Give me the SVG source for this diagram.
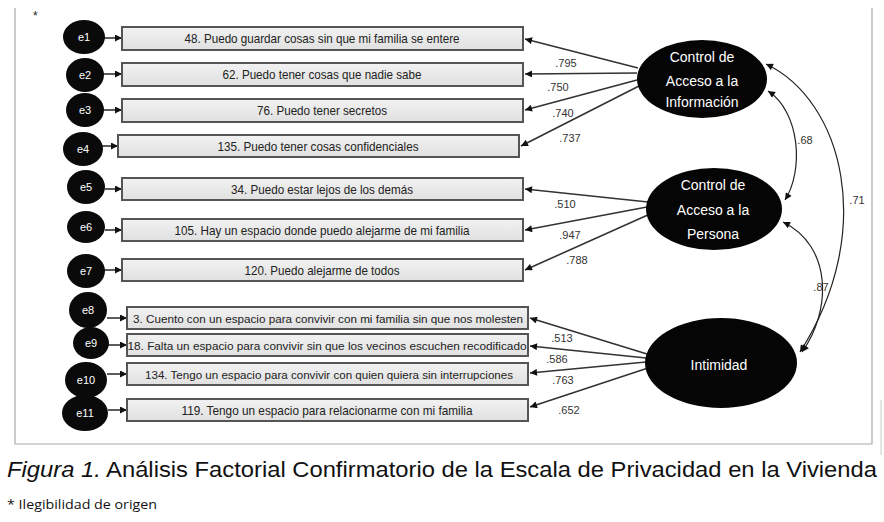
<svg xmlns="http://www.w3.org/2000/svg" width="884" height="522" viewBox="0 0 884 522">
<defs>
<marker id="ah" viewBox="0 0 10 10" refX="10" refY="5" markerWidth="9" markerHeight="7" markerUnits="userSpaceOnUse" orient="auto-start-reverse">
<path d="M0,0 L10,5 L0,10 z" fill="#111"/>
</marker>
<marker id="ah2" viewBox="0 0 10 10" refX="10" refY="5" markerWidth="8" markerHeight="7" markerUnits="userSpaceOnUse" orient="auto-start-reverse">
<path d="M0,0 L10,5 L0,10 z" fill="#111"/>
</marker>
<linearGradient id="bg" x1="0" y1="0" x2="0" y2="1">
<stop offset="0" stop-color="#f2f2f2"/>
<stop offset="1" stop-color="#e0e0e0"/>
</linearGradient>
</defs>
<style>
.box{fill:url(#bg);stroke:#555;stroke-width:2}
.bt{font-family:"Liberation Sans",Arial,sans-serif;font-size:13px;fill:#222;text-anchor:middle}
.bs{font-size:11.5px}
.err{fill:#0a0a0a}
.et{font-family:"Liberation Sans",Arial,sans-serif;font-size:11px;fill:#fff;text-anchor:middle}
.lat{fill:#050505}
.lt{font-family:"Liberation Sans",Arial,sans-serif;font-size:14px;fill:#fff;text-anchor:middle}
.ln{stroke:#333;stroke-width:1.6;fill:none;marker-end:url(#ah)}
.cv{stroke:#222;stroke-width:1.2;fill:none;marker-start:url(#ah2);marker-end:url(#ah2)}
.num{font-family:"Liberation Sans",Arial,sans-serif;font-size:11px;fill:#333;text-anchor:middle}
.frame{stroke:#aaa;stroke-width:1.2;fill:none}
</style>
<rect width="884" height="522" fill="#fff"/>
<path class="frame" d="M15,8 V444 H872 V8"/>
<path d="M881,400 V455" stroke="#ccc" stroke-width="1" fill="none"/>
<text x="33" y="20" font-family="Liberation Sans,Arial,sans-serif" font-size="12" fill="#222">*</text>

<g id="connectors">
<line class="ln" x1="104" y1="38" x2="122" y2="38"/>
<line class="ln" x1="103" y1="74" x2="122" y2="74"/>
<line class="ln" x1="103" y1="110" x2="122" y2="110"/>
<line class="ln" x1="102" y1="146" x2="118" y2="146"/>
<line class="ln" x1="105" y1="189" x2="122" y2="189"/>
<line class="ln" x1="105" y1="230" x2="122" y2="230"/>
<line class="ln" x1="105" y1="270" x2="122" y2="270"/>
<line class="ln" x1="107" y1="318" x2="127" y2="318"/>
<line class="ln" x1="108" y1="345" x2="127" y2="345"/>
<line class="ln" x1="107" y1="374" x2="127" y2="374"/>
<line class="ln" x1="108" y1="410" x2="127" y2="410"/>

<line class="ln" x1="638" y1="68" x2="525" y2="39"/>
<line class="ln" x1="637" y1="73" x2="525" y2="74"/>
<line class="ln" x1="637" y1="80" x2="525" y2="110"/>
<line class="ln" x1="639" y1="86" x2="521" y2="146"/>

<line class="ln" x1="648" y1="202" x2="525" y2="189"/>
<line class="ln" x1="647" y1="207" x2="525" y2="230"/>
<line class="ln" x1="650" y1="214" x2="525" y2="270"/>

<line class="ln" x1="647" y1="354" x2="530" y2="318"/>
<line class="ln" x1="646" y1="358" x2="530" y2="346"/>
<line class="ln" x1="646" y1="362" x2="530" y2="373"/>
<line class="ln" x1="648" y1="368" x2="530" y2="407"/>

<path class="cv" d="M768,91 C800,112 804,170 785,200"/>
<path class="cv" d="M766,64 C842,100 878,230 800,352"/>
<path class="cv" d="M783,222 C832,246 832,310 802,352"/>
</g>

<g id="labels">
<text class="num" x="566" y="67">.795</text>
<text class="num" x="558" y="91">.750</text>
<text class="num" x="563" y="117">.740</text>
<text class="num" x="570" y="142">.737</text>
<text class="num" x="565" y="208">.510</text>
<text class="num" x="570" y="239">.947</text>
<text class="num" x="577" y="264">.788</text>
<text class="num" x="562" y="342">.513</text>
<text class="num" x="557" y="363">.586</text>
<text class="num" x="563" y="384">.763</text>
<text class="num" x="569" y="414">.652</text>
<text class="num" x="805" y="144" font-size="8">.68</text>
<text class="num" x="857" y="204" font-size="8">.71</text>
<text class="num" x="821" y="291" font-size="8">.87</text>
</g>

<g id="e1"><ellipse class="err" cx="84" cy="37" rx="21" ry="17"/><text class="et" x="84" y="41">e1</text></g>
<g id="e2"><ellipse class="err" cx="85" cy="75" rx="19" ry="17"/><text class="et" x="85" y="79">e2</text></g>
<g id="e3"><ellipse class="err" cx="85" cy="110" rx="19" ry="17"/><text class="et" x="85" y="114">e3</text></g>
<g id="e4"><ellipse class="err" cx="83" cy="149" rx="20" ry="17"/><text class="et" x="83" y="153">e4</text></g>
<g id="e5"><ellipse class="err" cx="86" cy="187" rx="19" ry="17"/><text class="et" x="86" y="191">e5</text></g>
<g id="e6"><ellipse class="err" cx="86" cy="227" rx="19" ry="16"/><text class="et" x="86" y="231">e6</text></g>
<g id="e7"><ellipse class="err" cx="86" cy="271" rx="19" ry="17"/><text class="et" x="86" y="275">e7</text></g>
<g id="e8"><ellipse class="err" cx="88" cy="310" rx="19" ry="18"/><text class="et" x="88" y="314">e8</text></g>
<g id="e9"><ellipse class="err" cx="91" cy="343" rx="18" ry="16"/><text class="et" x="91" y="347">e9</text></g>
<g id="e10"><ellipse class="err" cx="86" cy="380" rx="21" ry="18"/><text class="et" x="86" y="384">e10</text></g>
<g id="e11"><ellipse class="err" cx="85" cy="413" rx="23" ry="18"/><text class="et" x="85" y="417">e11</text></g>

<g id="b48"><rect class="box" x="122" y="27" width="401" height="23"/><text class="bt" x="322" y="43" textLength="275" lengthAdjust="spacingAndGlyphs">48. Puedo guardar cosas sin que mi familia se entere</text></g>
<g id="b62"><rect class="box" x="122" y="63" width="401" height="23"/><text class="bt" x="322" y="79" textLength="199" lengthAdjust="spacingAndGlyphs">62. Puedo tener cosas que nadie sabe</text></g>
<g id="b76"><rect class="box" x="122" y="99" width="401" height="23"/><text class="bt" x="322" y="115" textLength="130" lengthAdjust="spacingAndGlyphs">76. Puedo tener secretos</text></g>
<g id="b135"><rect class="box" x="118" y="135" width="401" height="22"/><text class="bt" x="318" y="151" textLength="201" lengthAdjust="spacingAndGlyphs">135. Puedo tener cosas confidenciales</text></g>
<g id="b34"><rect class="box" x="122" y="178" width="401" height="22"/><text class="bt" x="322" y="194" textLength="182" lengthAdjust="spacingAndGlyphs">34. Puedo estar lejos de los demás</text></g>
<g id="b105"><rect class="box" x="122" y="219" width="401" height="22"/><text class="bt" x="322" y="235" textLength="295" lengthAdjust="spacingAndGlyphs">105. Hay un espacio donde puedo alejarme de mi familia</text></g>
<g id="b120"><rect class="box" x="122" y="259" width="401" height="22"/><text class="bt" x="322" y="275" textLength="155" lengthAdjust="spacingAndGlyphs">120. Puedo alejarme de todos</text></g>
<g id="b3"><rect class="box" x="127" y="307" width="401" height="22"/><text class="bt bs" x="328" y="323" textLength="390" lengthAdjust="spacingAndGlyphs">3. Cuento con un espacio para convivir con mi familia sin que nos molesten</text></g>
<g id="b18"><rect class="box" x="127" y="334" width="401" height="22"/><text class="bt bs" x="327" y="350" textLength="399" lengthAdjust="spacingAndGlyphs">18. Falta un espacio para convivir sin que los vecinos escuchen recodificado</text></g>
<g id="b134"><rect class="box" x="127" y="363" width="401" height="22"/><text class="bt bs" x="329" y="379" textLength="368" lengthAdjust="spacingAndGlyphs">134. Tengo un espacio para convivir con quien quiera sin interrupciones</text></g>
<g id="b119"><rect class="box" x="127" y="399" width="401" height="22"/><text class="bt" x="327" y="415" textLength="291" lengthAdjust="spacingAndGlyphs">119. Tengo un espacio para relacionarme con mi familia</text></g>

<g id="cai"><ellipse class="lat" cx="702" cy="79" rx="65" ry="39"/>
<text class="lt" x="702" y="62">Control de</text>
<text class="lt" x="702" y="86">Acceso a la</text>
<text class="lt" x="702" y="107">Información</text></g>
<g id="cap"><ellipse class="lat" cx="714" cy="209" rx="68" ry="41"/>
<text class="lt" x="713" y="190">Control de</text>
<text class="lt" x="713" y="215">Acceso a la</text>
<text class="lt" x="713" y="239">Persona</text></g>
<g id="int"><ellipse class="lat" cx="721" cy="363" rx="76" ry="45"/>
<text class="lt" x="719" y="370" font-size="16">Intimidad</text></g>

<text x="7" y="477" font-family="Liberation Sans,Arial,sans-serif" font-size="22" fill="#111" textLength="870" lengthAdjust="spacingAndGlyphs"><tspan font-style="italic">Figura 1.</tspan> Análisis Factorial Confirmatorio de la Escala de Privacidad en la Vivienda</text>
<text x="7" y="509" font-family="Open Sans,Liberation Sans,sans-serif" font-size="12" fill="#111" textLength="150" lengthAdjust="spacingAndGlyphs">* Ilegibilidad de origen</text>
</svg>
